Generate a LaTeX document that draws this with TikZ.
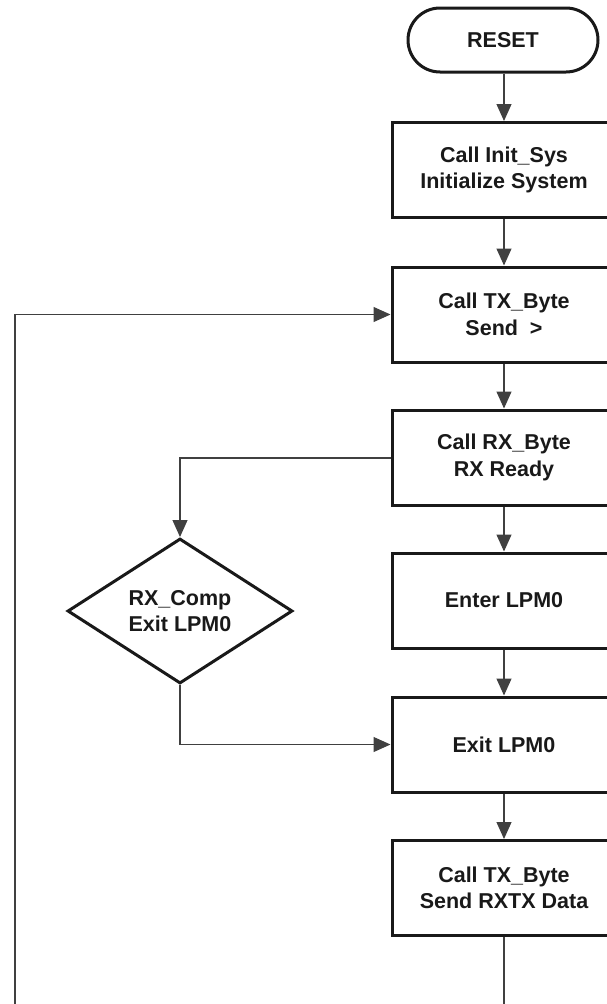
\documentclass[tikz,border=0pt]{standalone}
\usepackage{fontspec}
\setmainfont{Liberation Sans}
\usetikzlibrary{shapes.geometric,arrows.meta}
\begin{document}
\begin{tikzpicture}[x=1pt,y=-1pt,
  txt/.style={font=\fontsize{21.5}{26.5}\selectfont\bfseries, text=black!90, align=center},
  stepbox/.style={txt, draw=black!90, line width=3pt, minimum width=224pt, minimum height=95pt, inner sep=0pt},
  term/.style={txt, draw=black!90, line width=3pt, minimum width=190pt, minimum height=64pt, rounded corners=32pt, inner sep=0pt},
  decide/.style={txt, draw=black!90, line width=3pt, diamond, aspect=1.55, minimum width=225pt, minimum height=145pt, inner sep=0pt},
  conn/.style={draw=black!75, line width=1.2pt},
  arr/.style={conn, -{Triangle[length=17pt,width=15pt]}}
]
\useasboundingbox (0,0) rectangle (607,1004);
\clip (0,0) rectangle (607,1004);

\node[term] (reset) at (503,40) {RESET};
\node[stepbox] (b1) at (504,170) {Call Init\_Sys\\Initialize System};
\node[stepbox] (b2) at (504,314.5) {Call TX\_Byte\\Send \ >};
\node[stepbox] (b3) at (504,457.5) {Call RX\_Byte\\RX Ready};
\node[stepbox] (b4) at (504,600.5) {Enter LPM0};
\node[stepbox] (b5) at (504,744.5) {Exit LPM0};
\node[stepbox] (b6) at (504,888) {Call TX\_Byte\\Send RXTX Data};
\node[decide] (d) at (180,611) {RX\_Comp\\Exit LPM0};

\coordinate (bend1) at (180,458);
\coordinate (bend2) at (180,744.5);
\coordinate (botR) at (504,1010);
\coordinate (botL) at (15,1010);
\coordinate (loopTop) at (15,314.5);

\draw[arr] (reset.south -| b1.north) -- (b1.north);
\draw[arr] (b1) -- (b2);
\draw[arr] (b2) -- (b3);
\draw[arr] (b3) -- (b4);
\draw[arr] (b4) -- (b5);
\draw[arr] (b5) -- (b6);
\draw[arr] (b3.west |- bend1) -- (bend1) -- (d.north);
\draw[arr] (d.south) -- (bend2) -- (b5.west);
\draw[conn] (b6.south) -- (botR);
\draw[arr] (botL) -- (loopTop) -- (b2.west);
\end{tikzpicture}
\end{document}
